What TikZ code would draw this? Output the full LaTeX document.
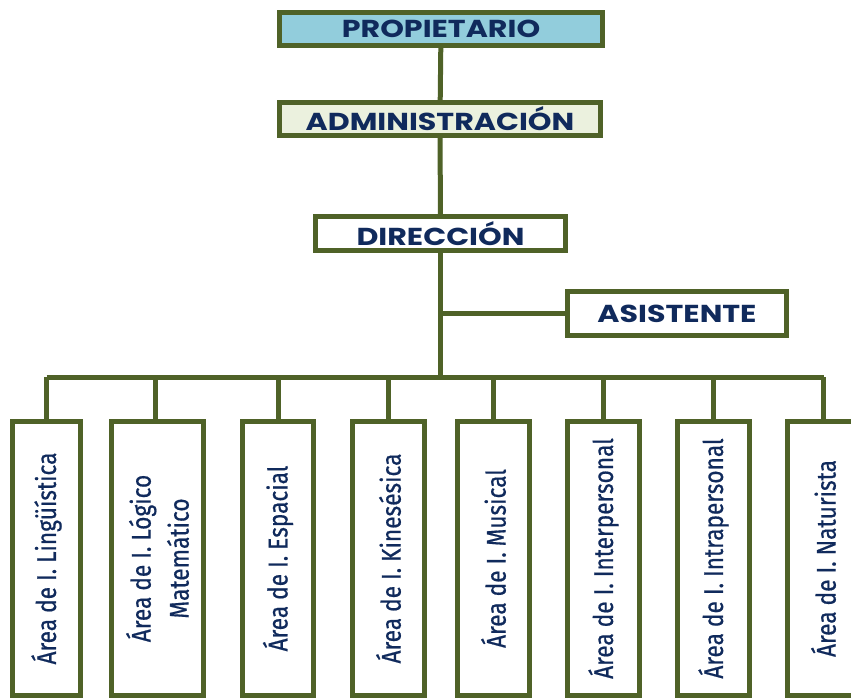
\documentclass[tikz,border=0pt]{standalone}
\usepackage{fontspec}
\newfontfamily\topfont[FakeStretch=1.23]{Poppins}
\newfontfamily\areafont[FakeStretch=0.84,FakeBold=0.6]{Fira Sans}
\definecolor{olive}{HTML}{4F6228}
\definecolor{navy}{HTML}{102A5C}
\definecolor{lblue}{HTML}{92CDDC}
\definecolor{lgreen}{HTML}{EBF1DE}
\begin{document}
\begin{tikzpicture}[x=1pt,y=-1pt,
  box/.style={draw=olive,line width=5pt,fill=white,inner sep=0pt,text=navy},
  topbox/.style={box,font=\topfont\bfseries\fontsize{24.5}{27}\selectfont},
  areabox/.style={box,minimum height=274pt},
  arealabel/.style={text=navy,font=\areafont\fontsize{27}{38}\selectfont,align=center,rotate=90,inner sep=0pt},
  conn/.style={draw=olive,line width=5pt}]
\useasboundingbox (0,0) rectangle (851,700);
\node[topbox,fill=lblue,minimum width=323pt,minimum height=33pt] (prop) at (441,29) {PROPIETARIO};
\node[topbox,fill=lgreen,minimum width=321pt,minimum height=33pt] (admin) at (440,119) {ADMINISTRACIÓN};
\node[topbox,minimum width=250pt,minimum height=34pt] (dir) at (440.5,233.5) {DIRECCIÓN};
\node[topbox,minimum width=219pt,minimum height=44pt] (asis) at (677,313.5) {ASISTENTE};
\coordinate (bus) at (441,377);
\foreach \n/\x/\w/\t in {
  b1/46.5/68/{Área de I. Lingüística},
  b2/157.5/92/{Área de I. Lógico\\Matemático},
  b3/278/71/{Área de I. Espacial},
  b4/388.5/72/{Área de I. Kinesésica},
  b5/493.5/72/{Área de I. Musical},
  b6/603.5/72/{Área de I. Interpersonal},
  b7/713.5/72/{Área de I. Intrapersonal},
  b8/823.5/72/{Área de I. Naturista}}{
  \node[areabox,minimum width=\w pt] (\n) at (\x,558.5) {};
  \node[arealabel] (\n t) at (\n.center) {\t};
}
\draw[conn] (prop) -- (admin);
\draw[conn] (admin) -- (dir);
\draw[conn] (dir.south) -- (dir.south |- bus);
\draw[conn] (dir.south |- asis.west) -- (asis.west);
\draw[conn] (b1.north |- bus) -- (b8.north |- bus);
\foreach \n in {b1,b3,b4,b5,b6,b7,b8}{
  \draw[conn] (\n.north |- bus) -- (\n.north);
}
\coordinate (b2drop) at (155,377);
\draw[conn] (b2drop) -- (b2drop |- b2.north);
\end{tikzpicture}
\end{document}
